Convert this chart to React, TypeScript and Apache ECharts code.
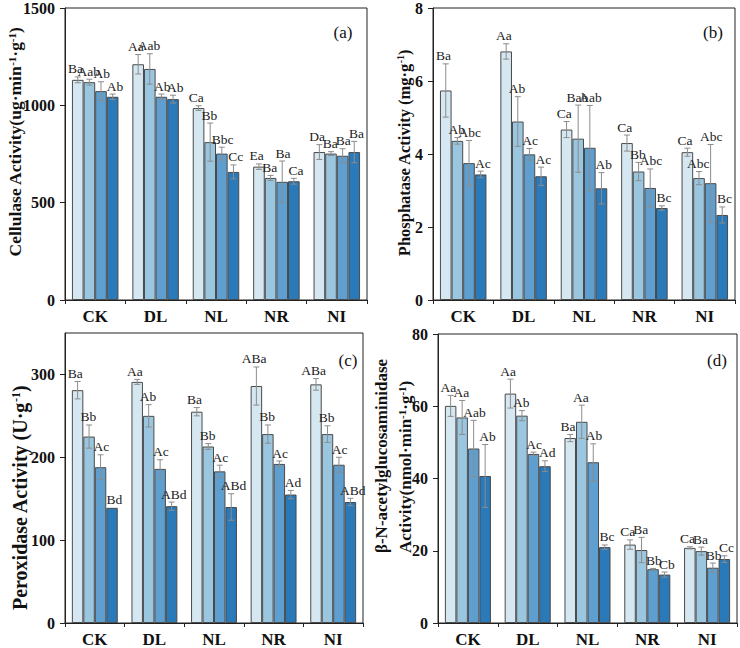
import React, { useEffect, useRef } from 'react';
import * as echarts from 'echarts';

const categories = ['CK', 'DL', 'NL', 'NR', 'NI'];
const barColors = ['#d5e7f1', '#9bc6e0', '#5e9fcf', '#2a79b9'];

// (a) Cellulase
const aVals = [
  [1131, 1211, 986, 685, 760],
  [1119, 1187, 811, 627, 752],
  [1073, 1044, 752, 607, 741],
  [1044, 1032, 658, 610, 760],
];
const aErrs = [
  [15, 50, 12, 14, 38],
  [15, 78, 98, 13, 10],
  [48, 14, 33, 107, 36],
  [14, 20, 36, 15, 55],
];
const aLabels = [
  ['Ba', 'Aa', 'Ca', 'Ea', 'Da'],
  ['Aab', 'Aab', 'Bb', 'Ba', 'Ba'],
  ['Ab', 'Ab', 'Bbc', 'Ba', 'Ba'],
  ['Ab', 'Ab', 'Cc', 'Ca', 'Ba'],
];

// (b) Phosphatase
const bVals = [
  [5.74, 6.81, 4.67, 4.3, 4.05],
  [4.36, 4.89, 4.42, 3.52, 3.34],
  [3.75, 3.99, 4.17, 3.07, 3.2],
  [3.44, 3.39, 3.06, 2.52, 2.33],
];
const bErrs = [
  [0.73, 0.21, 0.22, 0.22, 0.11],
  [0.09, 0.68, 0.92, 0.25, 0.18],
  [0.62, 0.16, 1.16, 0.52, 1.06],
  [0.09, 0.25, 0.43, 0.06, 0.22],
];
const bLabels = [
  ['Ba', 'Aa', 'Ca', 'Ca', 'Ca'],
  ['Ab', 'Ab', 'Bab', 'Bb', 'Abc'],
  ['Abc', 'Ac', 'Aab', 'Abc', 'Abc'],
  ['Ac', 'Ac', 'Ab', 'Bc', 'Bc'],
];

// (c) Peroxidase
const cVals = [
  [281, 291, 255, 286, 288],
  [225, 250, 213, 228, 228],
  [188, 186, 183, 192, 191],
  [139, 141, 140, 155, 146],
];
const cErrs = [
  [10.5, 3, 5, 23, 7],
  [14, 13.5, 3.5, 11, 10],
  [15, 11, 7.5, 3.5, 9],
  [0, 5, 16, 5, 4.5],
];
const cLabels = [
  ['Ba', 'Aa', 'Ba', 'ABa', 'ABa'],
  ['Bb', 'Ab', 'Bb', 'Bb', 'Bb'],
  ['Ac', 'Ac', 'Ac', 'Ac', 'Ac'],
  ['Bd', 'ABd', 'ABd', 'Ad', 'ABd'],
];

// (d) beta-N-acetylglucosaminidase
const dVals = [
  [60.1, 63.5, 51.2, 21.7, 20.8],
  [56.9, 57.4, 55.7, 20.2, 19.9],
  [48.3, 46.8, 44.5, 14.9, 15.3],
  [40.7, 43.4, 21.0, 13.4, 17.7],
];
const dErrs = [
  [2.9, 4, 1, 1.3, 0.3],
  [4.7, 1.4, 4.6, 3.5, 1.1],
  [7.8, 0.5, 5.1, 0.2, 1.3],
  [8.7, 1.5, 0.6, 0.7, 0.9],
];
const dLabels = [
  ['Aa', 'Aa', 'Ba', 'Ca', 'Ca'],
  ['Aa', 'Ab', 'Aa', 'Ba', 'Ba'],
  ['Aab', 'Ac', 'Ab', 'Bb', 'Bb'],
  ['Ab', 'Ad', 'Bc', 'Cb', 'Cc'],
];

const SERIF = "'Liberation Serif', 'Times New Roman', serif";
const GROUP_FRAC = 0.77;

const panels = [
  { vals: aVals, errs: aErrs, labels: aLabels, max: 1500, interval: 500, grid: { left: 65, top: 6, width: 302, height: 294 } },
  { vals: bVals, errs: bErrs, labels: bLabels, max: 8, interval: 2, grid: { left: 433, top: 6, width: 302, height: 294 } },
  { vals: cVals, errs: cErrs, labels: cLabels, max: 350, interval: 100, grid: { left: 65, top: 333, width: 298, height: 294 } },
  { vals: dVals, errs: dErrs, labels: dLabels, max: 80, interval: 20, grid: { left: 438, top: 334, width: 299, height: 293 } },
];

function makeRender(vals: number[][], errs: number[][], labels: string[][]) {
  return (params: any, api: any) => {
    const ci = api.value(0) as number;
    const bi = api.value(2) as number;
    const v = vals[bi][ci];
    const e = errs[bi][ci];
    const catW = api.size([1, 0])[0];
    const bw = (catW * GROUP_FRAC) / 4;
    const x = api.coord([ci, v])[0] + (bi - 1.5) * bw;
    const yTop = api.coord([ci, v + e])[1];
    const yBot = api.coord([ci, v - e])[1];
    const cap = 3;
    const st = { stroke: '#8c8c8c', lineWidth: 1 };
    const children: any[] = [];
    if (e > 0) {
      children.push({ type: 'line', shape: { x1: x, y1: yTop, x2: x, y2: yBot }, style: st });
      children.push({ type: 'line', shape: { x1: x - cap, y1: yTop, x2: x + cap, y2: yTop }, style: st });
      children.push({ type: 'line', shape: { x1: x - cap, y1: yBot, x2: x + cap, y2: yBot }, style: st });
    }
    children.push({
      type: 'text',
      x: x + (bi - 1.5) * 1.5,
      y: yTop - 1,
      style: {
        text: labels[bi][ci],
        fill: '#222',
        fontSize: 13.5,
        fontFamily: SERIF,
        align: 'center',
        verticalAlign: 'bottom',
      },
    });
    return { type: 'group', children };
  };
}

function nameText(x: number, y: number, text: string, size: number, align: string) {
  return {
    type: 'text',
    x,
    y,
    rotation: Math.PI / 2,
    style: {
      text,
      align,
      verticalAlign: 'middle',
      fill: '#111',
      rich: {
        n: { fontSize: size, fontWeight: 'bold', fontFamily: SERIF, fill: '#111' },
        s: { fontSize: Math.round(size * 0.62), fontWeight: 'bold', fontFamily: SERIF, fill: '#111', verticalAlign: 'top' },
      },
    },
  };
}

function titleText(x: number, y: number, text: string) {
  return {
    type: 'text',
    x,
    y,
    style: { text, fontSize: 17, fontFamily: SERIF, fill: '#111', align: 'center', verticalAlign: 'middle' },
  };
}

export default function App() {
  const ref = useRef<HTMLDivElement>(null);
  useEffect(() => {
    if (!ref.current) return;
    const chart = echarts.init(ref.current, undefined, { renderer: 'svg' });
    const grids: any[] = [];
    const xAxes: any[] = [];
    const yAxes: any[] = [];
    const series: any[] = [];
    panels.forEach((p, pi) => {
      grids.push({ ...p.grid, show: true, borderColor: '#222', borderWidth: 1, backgroundColor: 'transparent' });
      xAxes.push({
        type: 'category',
        gridIndex: pi,
        data: categories,
        axisLine: { lineStyle: { color: '#222', width: 1 } },
        axisTick: { show: true, length: 4, lineStyle: { color: '#222' } },
        axisLabel: { color: '#111', fontSize: 17, fontWeight: 'bold', fontFamily: SERIF, margin: 8 },
      });
      yAxes.push({
        type: 'value',
        gridIndex: pi,
        min: 0,
        max: p.max,
        interval: p.interval,
        splitLine: { show: false },
        axisLine: { show: true, lineStyle: { color: '#222', width: 1 } },
        axisTick: { show: true, length: 5, lineStyle: { color: '#222' } },
        axisLabel: {
          color: '#111',
          fontSize: 16,
          fontWeight: 'bold',
          fontFamily: SERIF,
          margin: 10,
          showMaxLabel: p.max % p.interval === 0,
          formatter: (v: number) => String(v),
        },
      });
      for (let bi = 0; bi < 4; bi++) {
        series.push({
          type: 'bar',
          xAxisIndex: pi,
          yAxisIndex: pi,
          data: p.vals[bi],
          barGap: '0%',
          barCategoryGap: `${Math.round((1 - GROUP_FRAC) * 100)}%`,
          itemStyle: { color: barColors[bi], borderColor: '#4a4a4a', borderWidth: 1 },
          z: 2,
        });
      }
      const cdata: number[][] = [];
      for (let bi = 0; bi < 4; bi++) {
        for (let ci = 0; ci < categories.length; ci++) {
          cdata.push([ci, p.vals[bi][ci] + p.errs[bi][ci], bi]);
        }
      }
      series.push({
        type: 'custom',
        xAxisIndex: pi,
        yAxisIndex: pi,
        data: cdata,
        encode: { x: 0, y: 1 },
        renderItem: makeRender(p.vals, p.errs, p.labels),
        clip: false,
        z: 4,
      });
    });

    chart.setOption({
      animation: false,
      backgroundColor: '#fff',
      textStyle: { fontFamily: SERIF },
      grid: grids,
      xAxis: xAxes,
      yAxis: yAxes,
      series,
      graphic: [
        titleText(343, 32, '(a)'),
        titleText(713, 32, '(b)'),
        titleText(348, 360, '(c)'),
        titleText(717, 360, '(d)'),
        nameText(15, 142, '{n|Cellulase Activity(ug·min}{s|-1}{n|·g}{s|-1}{n|)}', 17.5, 'center'),
        nameText(404, 153, '{n|Phosphatase Activity (mg·g}{s|-1}{n|)}', 16.5, 'center'),
        nameText(20, 498, '{n|Peroxidase Activity (U·g}{s|-1}{n|)}', 20, 'center'),
        nameText(381, 553, '{n|β-N-acetylglucosaminidase}', 17, 'left'),
        nameText(405, 553, '{n|Activity(nmol·min}{s|-1}{n|·g}{s|-1}{n|)}', 17, 'left'),
      ],
    });
    return () => chart.dispose();
  }, []);
  return <div ref={ref} style={{ position: 'fixed', left: 0, top: 0, width: 740, height: 648 }} />;
}
